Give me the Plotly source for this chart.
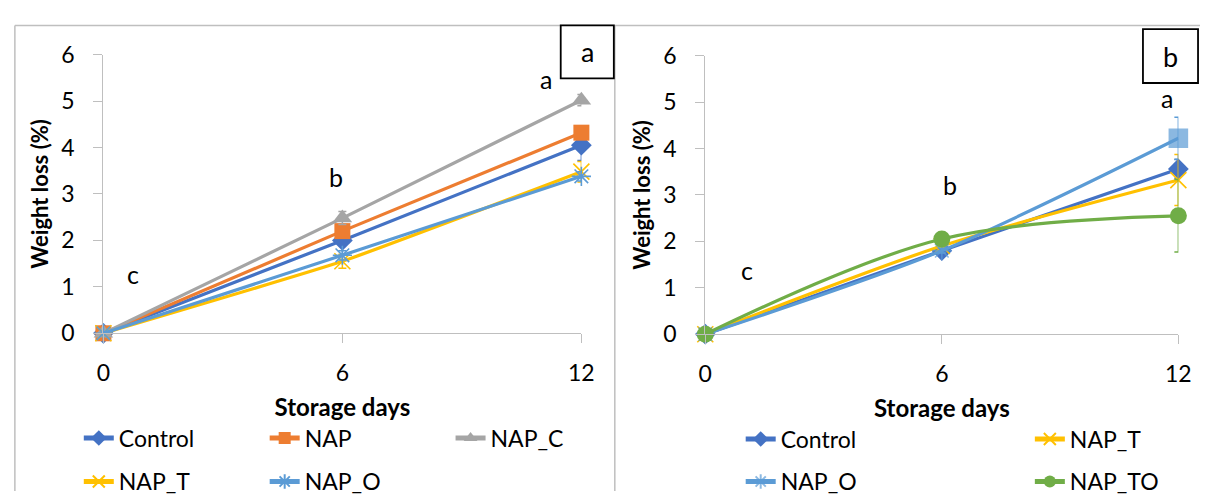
import plotly.graph_objects as go

# Storage days on the x axis
days = [0, 6, 12]

# Panel a: weight loss (%) and standard error per treatment
a_control = [0, 2.00, 4.05]
a_control_err = [0, 0.08, 0.33]
a_nap = [0, 2.20, 4.32]
a_nap_err = [0, 0.08, 0.10]
a_nap_c = [0, 2.48, 5.02]
a_nap_c_err = [0, 0.14, 0.12]
a_nap_t = [0, 1.55, 3.48]
a_nap_t_err = [0, 0.15, 0.22]
a_nap_o = [0, 1.68, 3.38]
a_nap_o_err = [0, 0.10, 0.10]

# Panel b: weight loss (%) and standard error per treatment
b_control = [0, 1.80, 3.56]
b_control_err = [0, 0.05, 0.20]
b_nap_t = [0, 1.90, 3.32]
b_nap_t_err = [0, 0.05, 0.55]
b_nap_o = [0, 1.80, 4.22]
b_nap_o_err = [0, 0.05, 0.45]
b_nap_to = [0, 2.05, 2.55]
b_nap_to_err = [0, 0.05, 0.78]

# Significance letters: (day, weight loss, letter)
a_letters = [(0.75, 1.28, "c"), (5.85, 3.37, "b"), (11.1, 5.48, "a")]
b_letters = [(1.05, 1.38, "c"), (6.2, 3.22, "b"), (11.7, 5.08, "a")]

FONT = "Lato"
W, H = 1213, 504

colors = {
    "Control": "#4472C4",
    "NAP": "#ED7D31",
    "NAP_C": "#A5A5A5",
    "NAP_T": "#FFC000",
    "NAP_O": "#5B9BD5",
    "NAP_TO": "#70AD47",
}


def px_x(v):
    return v / W


def px_y(v):
    return 1 - v / H


fig = go.Figure()


def add_series(name, y, err, xa, ya, symbol, size, legend, smoothing, open_marker=False):
    c = colors[name]
    fig.add_trace(go.Scatter(
        x=days, y=y, name=name, mode="lines+markers",
        xaxis=xa, yaxis=ya, legend=legend, showlegend=True,
        line=dict(color=c, width=3.2, shape="spline", smoothing=smoothing),
        marker=dict(symbol=symbol, size=size, color=c,
                    line=dict(color=c, width=1.6 if open_marker else 0)),
        error_y=dict(type="data", array=err, visible=True, color=c,
                     thickness=1.5, width=4),
        cliponaxis=False,
    ))


# Panel a series
add_series("Control", a_control, a_control_err, "x", "y", "diamond", 16, "legend", 0.4)
add_series("NAP", a_nap, a_nap_err, "x", "y", "square", 16, "legend2", 0.4)
add_series("NAP_C", a_nap_c, a_nap_c_err, "x", "y", "triangle-up", 17, "legend3", 0.4)
add_series("NAP_T", a_nap_t, a_nap_t_err, "x", "y", "x-thin-open", 16, "legend4", 0.4, True)
add_series("NAP_O", a_nap_o, a_nap_o_err, "x", "y", "asterisk-open", 16, "legend5", 0.4, True)

# Panel b series
add_series("Control", b_control, b_control_err, "x2", "y2", "diamond", 16, "legend6", 0.8)
add_series("NAP_T", b_nap_t, b_nap_t_err, "x2", "y2", "x-thin-open", 16, "legend7", 0.8, True)
add_series("NAP_O", b_nap_o, b_nap_o_err, "x2", "y2",
           ["asterisk-open", "asterisk-open", "square"], [16, 16, 18], "legend8", 0.8, True)
add_series("NAP_TO", b_nap_to, b_nap_to_err, "x2", "y2", "circle", 17, "legend9", 1.0)

axis_common = dict(
    showline=True, linecolor="#BFBFBF", linewidth=1.3,
    ticks="outside", tickcolor="#BFBFBF", ticklen=9, tickwidth=1.3,
    showgrid=False, zeroline=False,
    tickfont=dict(family=FONT, size=23, color="#000000"),
)

xtitle = dict(text="<b>Storage days</b>", font=dict(family=FONT, size=24, color="#000000"), standoff=14)
ytitle = dict(text="<b>Weight loss (%)</b>", font=dict(family=FONT, size=22, color="#000000"), standoff=6)

fig.update_layout(
    width=W, height=H,
    margin=dict(l=0, r=0, t=0, b=0),
    paper_bgcolor="white", plot_bgcolor="white",
    font=dict(family=FONT, color="#000000"),
    showlegend=True,
    xaxis=dict(domain=[px_x(98), px_x(584)], range=[0, 12], tickvals=days,
               anchor="y", ticklabelstandoff=10, title=xtitle, **axis_common),
    yaxis=dict(domain=[px_y(337), px_y(42)], range=[0, 6], dtick=1,
               anchor="x", ticklabelstandoff=14, title=ytitle, **axis_common),
    xaxis2=dict(domain=[px_x(710), px_x(1191)], range=[0, 12], tickvals=days,
                anchor="y2", ticklabelstandoff=10, title=xtitle, **axis_common),
    yaxis2=dict(domain=[px_y(338), px_y(43)], range=[0, 6], dtick=1,
                anchor="x2", ticklabelstandoff=14, title=ytitle, **axis_common),
)

# One single-item legend per entry, laid out in rows under each panel;
# positions give where each entry's label text starts
legend_pos = {
    "legend": (108, 448), "legend2": (297, 448), "legend3": (486, 448),
    "legend4": (108, 494), "legend5": (297, 494),
    "legend6": (781, 449), "legend7": (1075, 449),
    "legend8": (781, 494), "legend9": (1075, 494),
}
for key, (lx, ly) in legend_pos.items():
    fig.update_layout({key: dict(
        x=px_x(lx - 35), y=px_y(ly), xanchor="left", yanchor="middle",
        orientation="h", bgcolor="rgba(0,0,0,0)", borderwidth=0,
        font=dict(family=FONT, size=23, color="#000000"),
        itemsizing="constant", visible=True,
    )})

# Significance letters
for (dx, dy, t) in a_letters:
    fig.add_annotation(x=dx, y=dy, xref="x", yref="y", text=t, showarrow=False,
                       font=dict(family=FONT, size=25, color="#000000"))
for (dx, dy, t) in b_letters:
    fig.add_annotation(x=dx, y=dy, xref="x2", yref="y2", text=t, showarrow=False,
                       font=dict(family=FONT, size=25, color="#000000"))

# Panel frames
frame = dict(color="#BFBFBF", width=1.5)
fig.add_shape(type="line", xref="paper", yref="paper",
              x0=px_x(8), x1=1, y0=px_y(11), y1=px_y(11), line=frame)
fig.add_shape(type="line", xref="paper", yref="paper",
              x0=px_x(8), x1=px_x(8), y0=px_y(11), y1=0, line=frame)
fig.add_shape(type="line", xref="paper", yref="paper",
              x0=px_x(618), x1=px_x(618), y0=px_y(11), y1=0, line=frame)

# Panel labels in boxes
for (x0, y0, x1, y1, t) in [(563, 11, 617, 67, "a"), (1155, 15, 1211, 72, "b")]:
    fig.add_shape(type="rect", xref="paper", yref="paper",
                  x0=px_x(x0), x1=px_x(x1), y0=px_y(y1), y1=px_y(y0),
                  line=dict(color="#000000", width=1.8), fillcolor="white")
    fig.add_annotation(x=px_x((x0 + x1) / 2), y=px_y((y0 + y1) / 2), xref="paper", yref="paper",
                       text=t, showarrow=False, xanchor="center", yanchor="middle",
                       font=dict(family=FONT, size=27, color="#000000"))

fig.write_html("out.html")
